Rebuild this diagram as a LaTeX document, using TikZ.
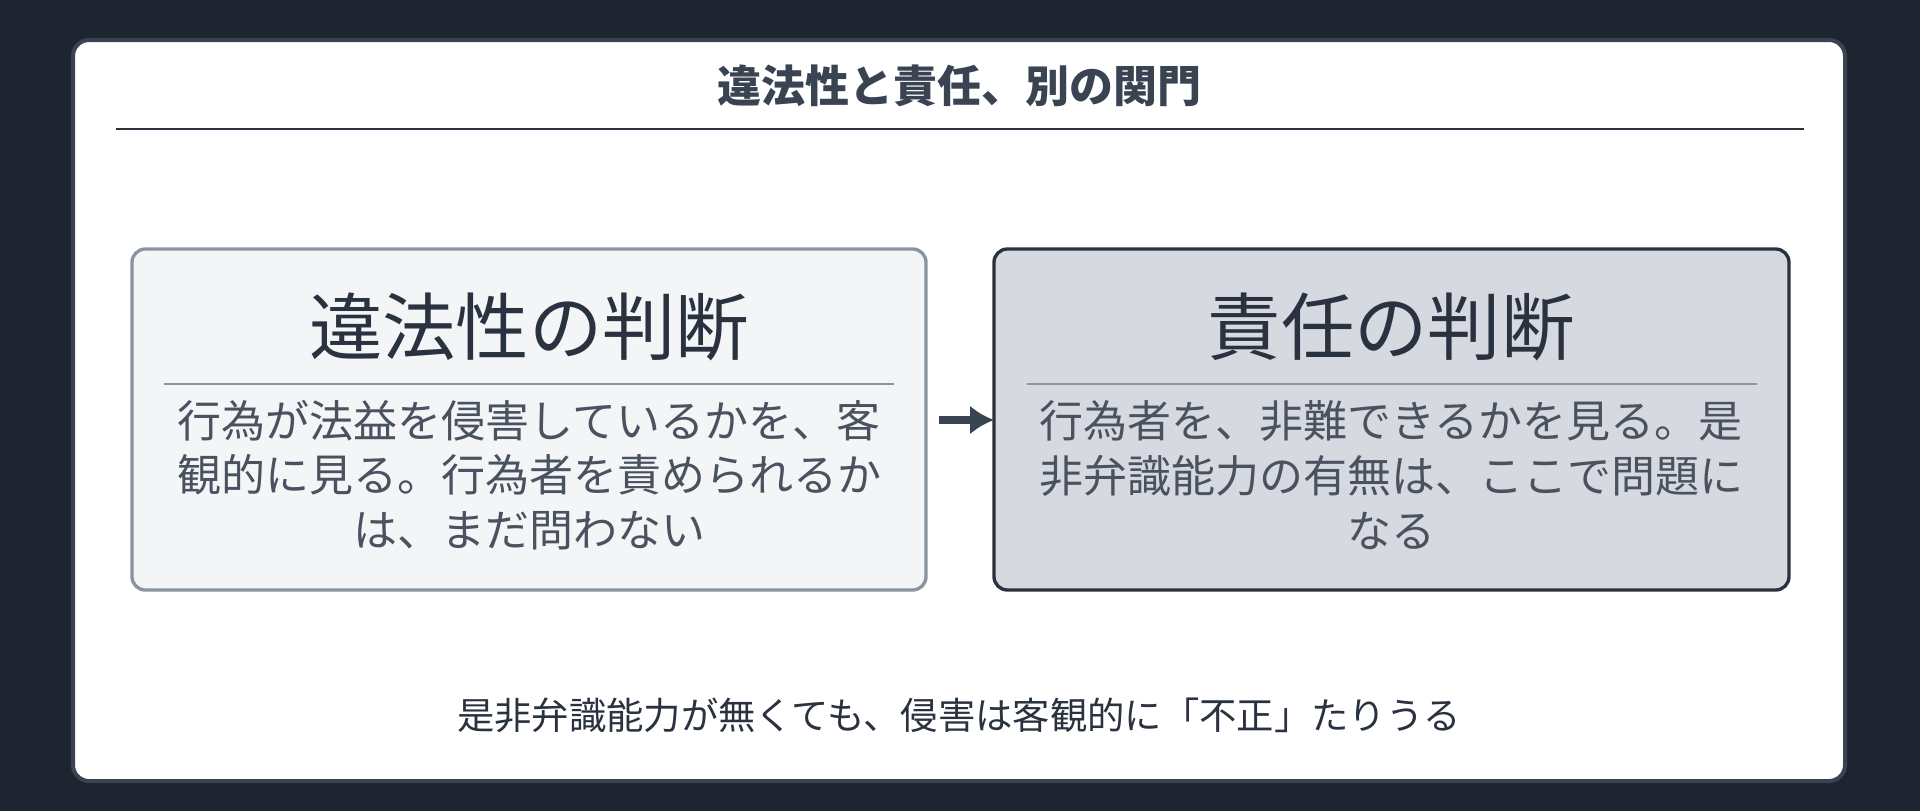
\documentclass[tikz,border=0pt]{standalone}
\usepackage{fontspec}
\setmainfont{Noto Sans CJK JP}
\usetikzlibrary{positioning,arrows.meta}
\definecolor{bgdark}{HTML}{1E2530}
\definecolor{inkdark}{HTML}{3A4352}
\definecolor{paleFill}{HTML}{F3F5F7}
\definecolor{paleEdge}{HTML}{8A94A1}
\definecolor{deepFill}{HTML}{D6DAE0}
\definecolor{deepEdge}{HTML}{2A3240}
\definecolor{bodyInk}{HTML}{4A5260}
\tikzset{
  card/.style={rounded corners=10pt, line width=2.5pt},
  heading/.style={font=\fontsize{55}{60}\selectfont, text=deepEdge},
  body/.style={font=\fontsize{33}{41}\selectfont, text=bodyInk, align=center},
}
\begin{document}
\begin{tikzpicture}[x=0.75pt,y=-0.75pt]
  \fill[bgdark] (0,0) rectangle (1920,811);
  \draw[fill=white, draw=inkdark, line width=3pt, rounded corners=12pt] (73,40) rectangle (1845,781);

  \node[font=\bfseries\fontsize{33}{38}\selectfont, text=inkdark] (title) at (959,86) {違法性と責任、別の関門};
  \draw[deepEdge, line width=1.5pt] (116,129) -- (1804,129);

  % left card
  \draw[card, fill=paleFill, draw=paleEdge] (132,249) rectangle (926,590);
  \node[heading] (illegal) at (529,327) {違法性の判断};
  \draw[paleEdge, line width=1.2pt] (164,384) -- (894,384);
  \node[body] (illegalText) at (529,475) {行為が法益を侵害しているかを、客\\観的に見る。行為者を責められるか\\は、まだ問わない};

  % right card
  \draw[card, fill=deepFill, draw=deepEdge] (994,249) rectangle (1789,590);
  \node[heading] (guilt) at (1391,327) {責任の判断};
  \draw[paleEdge, line width=1.2pt] (1027,384) -- (1757,384);
  \node[body] (guiltText) at (1391,475) {行為者を、非難できるかを見る。是\\非弁識能力の有無は、ここで問題に\\なる};

  \coordinate (arrowStart) at (939,420);
  \coordinate (arrowEnd) at (994,420);
  \draw[inkdark, line width=6pt, -{Latex[length=18pt,width=22pt]}] (arrowStart) -- (arrowEnd);

  \node[font=\fontsize{28}{32}\selectfont, text=deepEdge] (footer) at (959,715) {是非弁識能力が無くても、侵害は客観的に「不正」たりうる};
\end{tikzpicture}
\end{document}
